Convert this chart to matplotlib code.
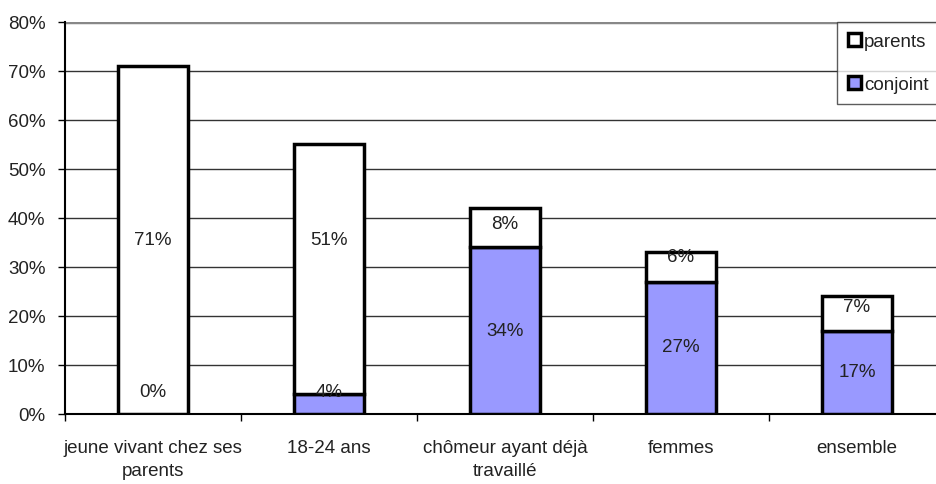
import numpy as np
import matplotlib.pyplot as plt
from matplotlib.ticker import FixedLocator

plt.rcParams['font.family'] = ['Liberation Sans Narrow', 'Liberation Sans', 'DejaVu Sans']

# Data
categories = ["jeune vivant chez ses\nparents", "18-24 ans", "chômeur ayant déjà\ntravaillé", "femmes", "ensemble"]
conjoint = [0, 4, 34, 27, 17]
parents = [71, 51, 8, 6, 7]

# label heights (in %), as placed in the original chart
conjoint_label_y = [4.6, 4.6, 17.1, 13.7, 8.6]
parents_label_y = [35.7, 35.7, 38.8, 32.2, 22.0]

fs = 13.5
fig = plt.figure(figsize=(9.36, 4.85), dpi=100)
ax = fig.add_axes([65 / 936, 1 - 415 / 485, 880 / 936, 392 / 485])

x = np.arange(len(categories))
w = 0.4
ax.bar(x, conjoint, w, color='#9999ff', edgecolor='black', linewidth=2.5, label='conjoint', zorder=3)
ax.bar(x, parents, w, bottom=conjoint, color='white', edgecolor='black', linewidth=2.5, label='parents', zorder=3)

for i in range(len(categories)):
    ax.text(x[i], conjoint_label_y[i], f"{conjoint[i]}%", ha='center', va='center', fontsize=fs, color='#222222', zorder=4)
    ax.text(x[i], parents_label_y[i], f"{parents[i]}%", ha='center', va='center', fontsize=fs, color='#222222', zorder=4)

ax.set_xlim(-0.5, 4.5)
ax.set_ylim(0, 80)
ax.set_yticks(range(0, 81, 10))
ax.set_yticklabels([f"{v}%" for v in range(0, 81, 10)], fontsize=fs, color='#222222')
for v in range(10, 80, 10):
    ax.axhline(v, color='#333333', linewidth=1, zorder=1)
ax.axhline(80, color='#888888', linewidth=2.5, zorder=1)

ax.set_xticks(x)
ax.set_xticklabels(categories, fontsize=fs, color='#222222', linespacing=1.5)
ax.tick_params(axis='x', which='major', length=0, pad=18)
ax.xaxis.set_minor_locator(FixedLocator(np.arange(-0.5, 5, 1)))
ax.tick_params(axis='x', which='minor', length=5, width=1, color='black')
ax.tick_params(axis='y', length=5, width=1, color='black', pad=9)

for s in ['top', 'right']:
    ax.spines[s].set_visible(False)
ax.spines['left'].set_linewidth(1.5)
ax.spines['bottom'].set_linewidth(1.5)

handles, labels = ax.get_legend_handles_labels()
leg = fig.legend(handles[::-1], labels[::-1], loc='upper left',
                 bbox_to_anchor=(837 / 936, 1 - 23 / 485), bbox_transform=fig.transFigure,
                 borderaxespad=0, frameon=True, fancybox=False, edgecolor='#333333',
                 fontsize=fs, handlelength=0.7, handleheight=0.7, handletextpad=0.15,
                 labelspacing=1.36, borderpad=0.6)
leg.get_frame().set_linewidth(1)
for t in leg.get_texts():
    t.set_color('#222222')

plt.savefig('out.png', dpi=100)
